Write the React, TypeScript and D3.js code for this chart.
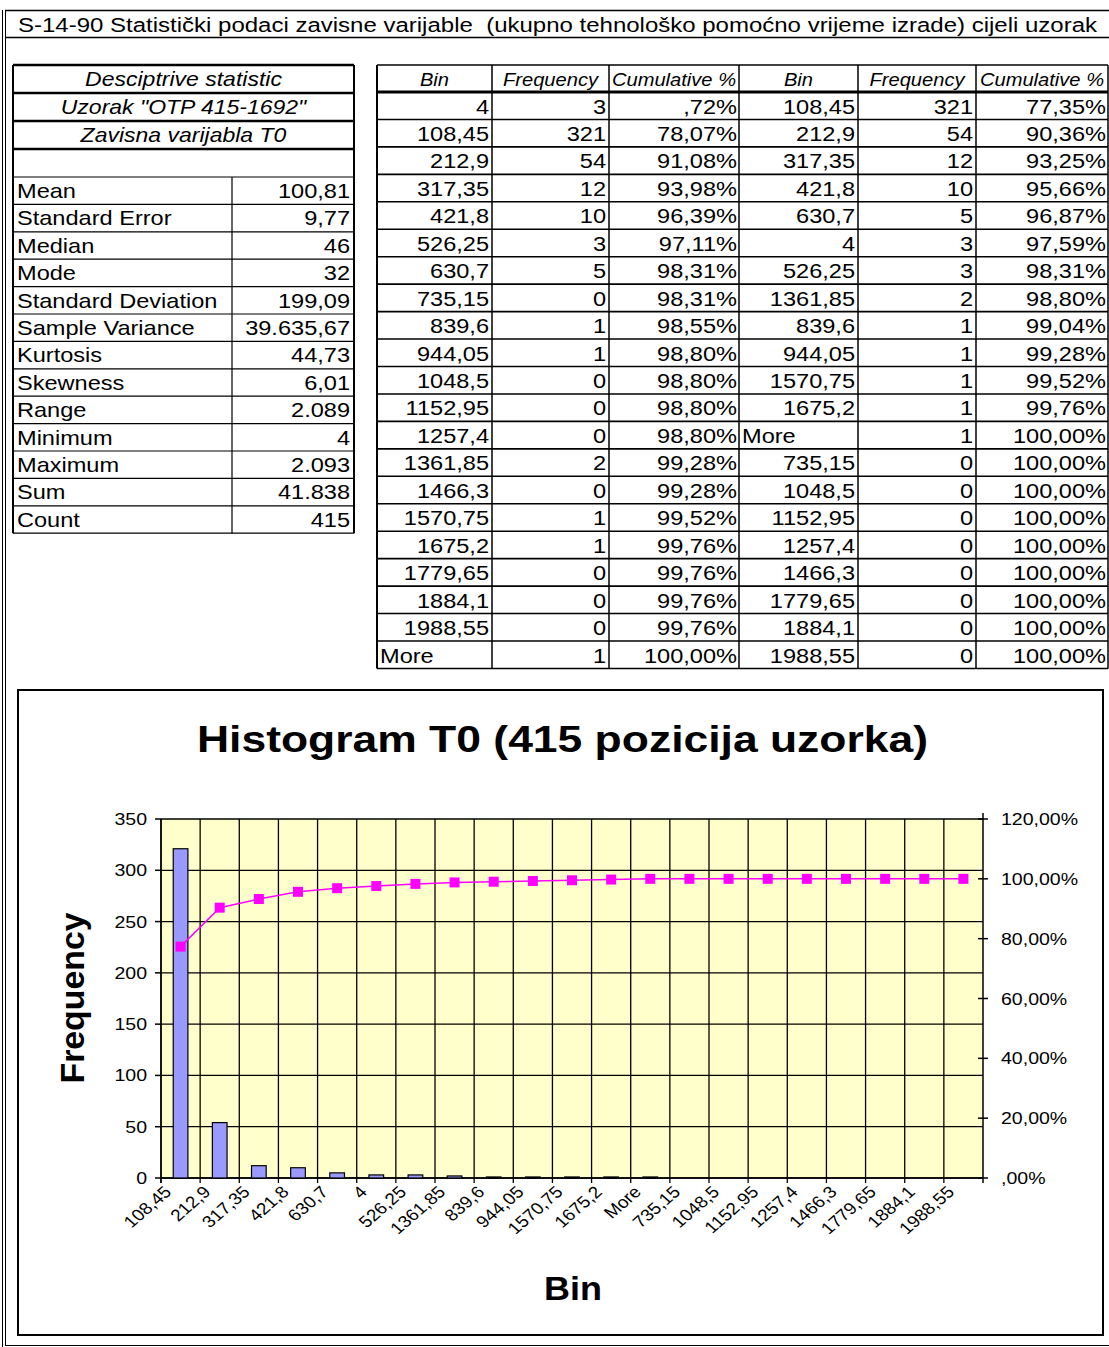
import React, { useEffect, useRef } from 'react';
import * as d3 from 'd3';

const pageTitle = 'S-14-90 Statistički podaci zavisne varijable  (ukupno tehnološko pomoćno vrijeme izrade) cijeli uzorak';

// descriptive statistics table
const statHeader = ['Desciptrive statistic', 'Uzorak "OTP 415-1692"', 'Zavisna varijabla T0'];
const statLabels = ['Mean', 'Standard Error', 'Median', 'Mode', 'Standard Deviation', 'Sample Variance', 'Kurtosis', 'Skewness', 'Range', 'Minimum', 'Maximum', 'Sum', 'Count'];
const statValues = ['100,81', '9,77', '46', '32', '199,09', '39.635,67', '44,73', '6,01', '2.089', '4', '2.093', '41.838', '415'];

// frequency table, bins in natural order
const tableHeaders = ['Bin', 'Frequency', 'Cumulative %'];
const binsByValue = ['4', '108,45', '212,9', '317,35', '421,8', '526,25', '630,7', '735,15', '839,6', '944,05', '1048,5', '1152,95', '1257,4', '1361,85', '1466,3', '1570,75', '1675,2', '1779,65', '1884,1', '1988,55', 'More'];
const freqByValue = [3, 321, 54, 12, 10, 3, 5, 0, 1, 1, 0, 0, 0, 2, 0, 1, 1, 0, 0, 0, 1];
const cumByValue = [0.72, 78.07, 91.08, 93.98, 96.39, 97.11, 98.31, 98.31, 98.55, 98.8, 98.8, 98.8, 98.8, 99.28, 99.28, 99.52, 99.76, 99.76, 99.76, 99.76, 100];

// frequency table, bins sorted by frequency (used by the chart)
const binsSorted = ['108,45', '212,9', '317,35', '421,8', '630,7', '4', '526,25', '1361,85', '839,6', '944,05', '1570,75', '1675,2', 'More', '735,15', '1048,5', '1152,95', '1257,4', '1466,3', '1779,65', '1884,1', '1988,55'];
const freqSorted = [321, 54, 12, 10, 5, 3, 3, 2, 1, 1, 1, 1, 1, 0, 0, 0, 0, 0, 0, 0, 0];
const cumSorted = [77.35, 90.36, 93.25, 95.66, 96.87, 97.59, 98.31, 98.8, 99.04, 99.28, 99.52, 99.76, 100, 100, 100, 100, 100, 100, 100, 100, 100];

const chartTitle = 'Histogram T0 (415 pozicija uzorka)';
const freqTicks = [0, 50, 100, 150, 200, 250, 300, 350];
const pctTicks = [0, 20, 40, 60, 80, 100, 120];

const FONT = '"Liberation Sans", Arial, sans-serif';
const SX = 1.15; // the source image is stretched horizontally

const fmtPct = (v: number) => {
  const s = v.toFixed(2).replace('.', ',');
  return (s.startsWith('0,') ? s.slice(1) : s) + '%';
};

export default function App() {
  const svgRef = useRef<SVGSVGElement>(null);

  useEffect(() => {
    if (!svgRef.current) return;
    const svg = d3.select(svgRef.current);
    svg.selectAll('*').remove();

    const text = (
      g: d3.Selection<any, any, any, any>,
      x: number, y: number, s: string,
      o: { size?: number; anchor?: string; weight?: string; italic?: boolean; sx?: number; rotate?: number; len?: number } = {}
    ) => {
      const t = g.append('text')
        .attr('transform', `translate(${x},${y}) scale(${o.sx ?? SX},1)${o.rotate ? ` rotate(${o.rotate})` : ''}`)
        .attr('font-family', FONT)
        .attr('font-size', o.size ?? 20)
        .attr('text-anchor', o.anchor ?? 'start')
        .attr('font-weight', o.weight ?? 'normal')
        .attr('font-style', o.italic ? 'italic' : 'normal')
        .style('white-space', 'pre')
        .attr('fill', '#000')
        .text(s);
      if (o.len) t.attr('textLength', o.len).attr('lengthAdjust', 'spacingAndGlyphs');
      return t;
    };
    const line = (x1: number, y1: number, x2: number, y2: number, w = 1) =>
      svg.append('line').attr('x1', x1).attr('y1', y1).attr('x2', x2).attr('y2', y2)
        .attr('stroke', '#000').attr('stroke-width', w);

    svg.append('rect').attr('width', 1109).attr('height', 1347).attr('fill', '#fff');

    // page frame and title row
    line(2.5, 10, 2.5, 1347);
    line(5.5, 10, 5.5, 1345);
    line(5, 10.5, 1109, 10.5, 1.5);
    line(5, 37.5, 1109, 37.5, 1.5);
    line(5, 1345.5, 1109, 1345.5, 1);
    text(svg, 18, 32, pageTitle, { size: 20, sx: 1, len: 1079 });

    // descriptive statistics table
    const LX = [13, 232, 354];
    const headTops = [65, 93, 121, 149, 177];
    const lrh = 27.4;
    const lBottom = headTops[4] + statLabels.length * lrh;
    statHeader.forEach((h, i) => {
      text(svg, (LX[0] + LX[2]) / 2, headTops[i] + 21, h, { italic: true, anchor: 'middle', size: 20 });
    });
    headTops.forEach((y, i) => line(LX[0], y, LX[2], y, i < 4 ? 2.5 : 1.2));
    statLabels.forEach((lab, i) => {
      const y = headTops[4] + i * lrh;
      text(svg, LX[0] + 4, y + 21, lab, { size: 20.5 });
      text(svg, LX[2] - 4, y + 21, statValues[i], { size: 20.5, anchor: 'end' });
      line(LX[0], y + lrh, LX[2], y + lrh, 1.2);
    });
    line(LX[0], 65, LX[0], lBottom, 2);
    line(LX[2], 65, LX[2], lBottom, 2);
    line(LX[1], headTops[4], LX[1], lBottom, 1.2);

    // frequency tables
    const RX = [377, 492, 609, 739, 858, 976, 1108];
    const rTop = 65;
    const rHead = 92;
    const rrh = 27.45;
    const rBottom = rHead + binsByValue.length * rrh;
    [0, 1].forEach(side => {
      tableHeaders.forEach((h, j) => {
        const c = side * 3 + j;
        text(svg, (RX[c] + RX[c + 1]) / 2, rTop + 21, h, { italic: true, anchor: 'middle', size: 17.5 });
      });
      const bins = side === 0 ? binsByValue : binsSorted;
      const fr = side === 0 ? freqByValue : freqSorted;
      const cu = side === 0 ? cumByValue : cumSorted;
      bins.forEach((b, i) => {
        const y = rHead + i * rrh + 21.5;
        const c = side * 3;
        if (b === 'More') text(svg, RX[c] + 3, y, b, { size: 20.5 });
        else text(svg, RX[c + 1] - 3, y, b, { size: 20.5, anchor: 'end' });
        text(svg, RX[c + 2] - 3, y, String(fr[i]), { size: 20.5, anchor: 'end' });
        text(svg, RX[c + 3] - 2, y, fmtPct(cu[i]), { size: 20.5, anchor: 'end' });
      });
    });
    line(RX[0], rTop, RX[6], rTop, 1.5);
    line(RX[0], rHead, RX[6], rHead, 3);
    binsByValue.forEach((_, i) => line(RX[0], rHead + (i + 1) * rrh, RX[6], rHead + (i + 1) * rrh, 1.6));
    RX.forEach((x, i) => line(x, rTop, x, rBottom, i === 0 ? 2 : 1.5));

    // chart frame
    svg.append('rect').attr('x', 18).attr('y', 690).attr('width', 1085).attr('height', 645)
      .attr('fill', '#fff').attr('stroke', '#000').attr('stroke-width', 2);
    text(svg, 197, 752, chartTitle, { size: 37, weight: 'bold', sx: 1, len: 731 });

    const px0 = 161, px1 = 983, py0 = 1178, py1 = 819;
    const x = d3.scaleBand().domain(binsSorted).range([px0, px1]).paddingInner(0).paddingOuter(0);
    const yF = d3.scaleLinear().domain([0, 350]).range([py0, py1]);
    const yP = d3.scaleLinear().domain([0, 120]).range([py0, py1]);
    const bw = x.bandwidth();

    const plot = svg.append('g');
    plot.append('rect').attr('x', px0).attr('y', py1).attr('width', px1 - px0).attr('height', py0 - py1)
      .attr('fill', '#FFFFCC');
    freqTicks.forEach(t => plot.append('line').attr('x1', px0).attr('x2', px1)
      .attr('y1', yF(t)).attr('y2', yF(t)).attr('stroke', '#000').attr('stroke-width', 1.3));
    binsSorted.forEach(b => plot.append('line').attr('x1', x(b)!).attr('x2', x(b)!)
      .attr('y1', py1).attr('y2', py0 + 5).attr('stroke', '#000').attr('stroke-width', 1.3));
    plot.append('line').attr('x1', px1).attr('x2', px1).attr('y1', py1 - 6).attr('y2', py0 + 5)
      .attr('stroke', '#000').attr('stroke-width', 1.5);
    plot.append('line').attr('x1', px0).attr('x2', px0).attr('y1', py1).attr('y2', py0 + 5)
      .attr('stroke', '#000').attr('stroke-width', 1.5);
    plot.append('line').attr('x1', px0).attr('x2', px1).attr('y1', py0).attr('y2', py0)
      .attr('stroke', '#000').attr('stroke-width', 1.5);

    // bars
    const barW = bw * 0.375;
    plot.selectAll('rect.bar').data(freqSorted).enter().append('rect')
      .attr('class', 'bar')
      .attr('x', (_, i) => x(binsSorted[i])! + (bw - barW) / 2)
      .attr('y', d => yF(d))
      .attr('width', barW)
      .attr('height', d => py0 - yF(d))
      .attr('fill', '#9999FF')
      .attr('stroke', '#000')
      .attr('stroke-width', d => (d > 0 ? 1.2 : 0));

    // cumulative line
    const cx = (i: number) => x(binsSorted[i])! + bw / 2;
    const lineGen = d3.line<number>().x((_, i) => cx(i)).y(d => yP(d));
    plot.append('path').attr('d', lineGen(cumSorted)!).attr('fill', 'none')
      .attr('stroke', '#FF00FF').attr('stroke-width', 1.5);
    const ms = 10;
    cumSorted.forEach((d, i) => plot.append('rect')
      .attr('x', cx(i) - ms / 2).attr('y', yP(d) - ms / 2).attr('width', ms).attr('height', ms)
      .attr('fill', '#FF00FF'));

    // left axis
    freqTicks.forEach(t => {
      line(px0 - 6, yF(t), px0, yF(t), 1.5);
      text(svg, px0 - 14, yF(t) + 6, String(t), { size: 17, anchor: 'end' });
    });
    // right axis
    pctTicks.forEach(t => {
      line(px1 - 5, yP(t), px1 + 5, yP(t), 1.5);
      text(svg, px1 + 18, yP(t) + 6, fmtPct(t), { size: 17 });
    });
    // category labels
    binsSorted.forEach((b, i) => {
      text(svg, cx(i) - 8, py0 + 15, b, { size: 16.5, anchor: 'end', rotate: -45 });
    });

    // axis titles
    svg.append('text')
      .attr('transform', `translate(84,998) rotate(-90)`)
      .attr('font-family', FONT).attr('font-size', 33).attr('font-weight', 'bold')
      .attr('text-anchor', 'middle').attr('textLength', 171).attr('lengthAdjust', 'spacingAndGlyphs')
      .attr('fill', '#000')
      .text('Frequency');
    text(svg, 573, 1300, 'Bin', { size: 33, weight: 'bold', anchor: 'middle', sx: 1, len: 58 });
  }, []);

  return (
    <svg ref={svgRef} width={1109} height={1347}
      style={{ position: 'absolute', left: 0, top: 0, display: 'block' }} />
  );
}
